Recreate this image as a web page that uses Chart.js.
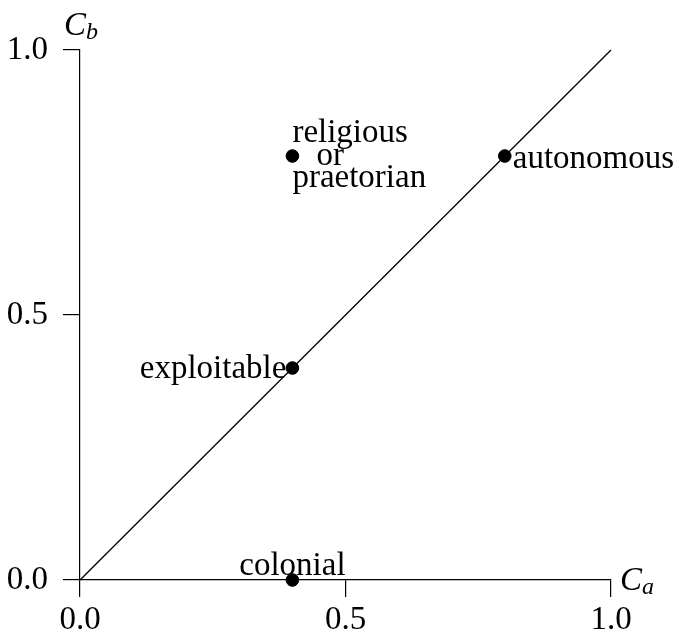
<!DOCTYPE html>
<html>
<head>
<meta charset="utf-8">
<script src="https://cdn.jsdelivr.net/npm/chart.js@4"></script>
<style>
  body { margin: 0; background: #fff; }
  #wrap { width: 679px; height: 633px; }
</style>
</head>
<body>
<div id="wrap"><canvas id="chart" width="679" height="633"></canvas></div>
<script>
// regime types, plotted as (Ca, Cb)
const regimeNames = ["religious\nor\npraetorian", "autonomous", "exploitable", "colonial"];
const caValues = [0.4, 0.8, 0.4, 0.4];
const cbValues = [0.8, 0.8, 0.4, 0.0];
const diagonalX = [0, 1];
const diagonalY = [0, 1];
const tickValues = [0, 0.5, 1];

const FONT = "Liberation Serif";

// where each label sits relative to its point
const labelPlace = [
  { align: "left", dx: 0, dy: -14, lines: [0, 24, 0], lh: 22.5 },
  { align: "left", dx: 8, dy: 12 },
  { align: "right", dx: -6, dy: 10 },
  { align: "center", dx: 0, dy: -5 },
];

const pointLabels = {
  id: "pointLabels",
  afterDatasetsDraw(chart) {
    const ctx = chart.ctx;
    const xs = chart.scales.x, ys = chart.scales.y;
    ctx.save();
    ctx.fillStyle = "#000";
    ctx.font = "33px '" + FONT + "'";
    ctx.textBaseline = "alphabetic";
    regimeNames.forEach((name, i) => {
      const px = xs.getPixelForValue(caValues[i]);
      const py = ys.getPixelForValue(cbValues[i]);
      const p = labelPlace[i];
      ctx.textAlign = p.align;
      const parts = name.split("\n");
      parts.forEach((t, k) => {
        const off = p.lines ? p.lines[k] : 0;
        const lh = p.lh || 0;
        ctx.fillText(t, px + p.dx + off, py + p.dy + k * lh);
      });
    });

    // axis names C_a and C_b
    const drawName = (x, y, sub) => {
      ctx.textAlign = "left";
      ctx.font = "italic 33px '" + FONT + "'";
      ctx.fillText("C", x, y);
      const w = ctx.measureText("C").width;
      ctx.font = "italic 24px '" + FONT + "'";
      ctx.fillText(sub, x + w, y + 4);
    };
    drawName(xs.right + 9, ys.bottom + 10, "a");
    drawName(xs.left - 16, ys.top - 15, "b");
    ctx.restore();
  },
};

const axisStyle = {
  type: "linear",
  min: 0,
  max: 1,
  border: { display: true, color: "#000", width: 1.2 },
  grid: {
    drawOnChartArea: false,
    drawTicks: true,
    tickLength: 17,
    color: "#000",
    lineWidth: 1.2,
  },
  afterBuildTicks: (axis) => {
    axis.ticks = tickValues.map((v) => ({ value: v }));
  },
};

new Chart(document.getElementById("chart"), {
  type: "scatter",
  data: {
    datasets: [
      {
        data: diagonalX.map((x, i) => ({ x: x, y: diagonalY[i] })),
        showLine: true,
        borderColor: "#000",
        borderWidth: 1.3,
        pointRadius: 0,
        clip: false,
      },
      {
        data: caValues.map((x, i) => ({ x: x, y: cbValues[i] })),
        backgroundColor: "#000",
        borderColor: "#000",
        pointRadius: 6.3,
        clip: false,
      },
    ],
  },
  options: {
    responsive: false,
    animation: false,
    layout: { padding: { top: 50, right: 68, left: 0, bottom: 0 } },
    plugins: { legend: { display: false }, tooltip: { enabled: false } },
    scales: {
      x: {
        ...axisStyle,
        ticks: {
          color: "#000",
          font: { family: FONT, size: 33 },
          padding: 4,
          maxRotation: 0,
          callback: (v) => v.toFixed(1),
        },
        afterFit: (axis) => { axis.height = 53; },
      },
      y: {
        ...axisStyle,
        ticks: {
          color: "#000",
          font: { family: FONT, size: 33 },
          padding: 15,
          callback: (v) => v.toFixed(1),
        },
        afterFit: (axis) => { axis.width = 80; },
      },
    },
  },
  plugins: [pointLabels],
});
</script>
</body>
</html>
